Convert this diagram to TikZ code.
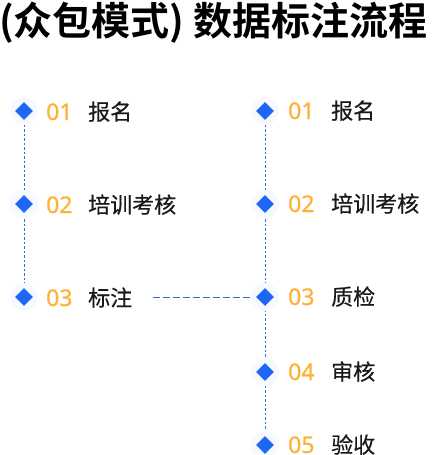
\documentclass[tikz,border=0pt]{standalone}
\usepackage{fontspec}
\newfontfamily\cjk{Noto Sans CJK SC}[FakeBold=0.4]
\newfontfamily\cjkbold{Noto Sans CJK SC Bold}
\newfontfamily\numfont{Noto Sans}[FakeBold=0.8]
\usetikzlibrary{shapes.geometric,backgrounds}
\definecolor{dblue}{HTML}{1F66F5}
\definecolor{lblue}{HTML}{2F6FC8}
\definecolor{numor}{HTML}{FDB235}
\definecolor{glow}{HTML}{F7F9FF}
\begin{document}
\begin{tikzpicture}[x=1pt,y=-1pt,
  marker/.style={diamond,fill=dblue,inner sep=0pt,minimum size=18pt},
  numtxt/.style={anchor=base west,inner sep=0pt,font=\numfont\fontsize{23}{23}\selectfont,text=numor},
  labtxt/.style={anchor=base west,inner sep=0pt,font=\cjk\fontsize{22}{22}\selectfont,text=black!90},
  vline/.style={draw=lblue,line width=0.8pt,dash pattern=on 2.5pt off 2pt},
  hline/.style={draw=lblue,line width=0.8pt,dash pattern=on 6.5pt off 3.5pt}]
\useasboundingbox (0,0) rectangle (432,455);
\node[anchor=base west,inner sep=0pt,font=\cjkbold\fontsize{39}{39}\selectfont] (title) at (-1,35) {(众包模式) 数据标注流程};
% left column
\foreach \n/\y/\num/\lab in {1/111/01/报名,2/204/02/培训考核,3/297/03/标注}{
  \fill[glow] (24,\y) circle (14);
  \node[marker] (d\n) at (24,\y) {};
  \node[numtxt] (n\n) at (46,\y+9) {\num};
  \node[labtxt] (l\n) at (88,\y+9) {\lab};
}
% right column
\foreach \n/\y/\num/\lab in {1/111/01/报名,2/204/02/培训考核,3/297/03/质检,4/372/04/审核,5/445/05/验收}{
  \fill[glow] (265,\y) circle (14);
  \node[marker] (e\n) at (265,\y) {};
  \node[numtxt] (m\n) at (288,\y+8) {\num};
  \node[labtxt] (r\n) at (331,\y+8) {\lab};
}
\coordinate (hstart) at (153,297);
\begin{scope}[on background layer]
  \draw[vline] (d1.center) -- (d3.center);
  \draw[vline] (e1.center) -- (e5.center);
  \draw[hline] (hstart) -- (e3.center);
\end{scope}
\end{tikzpicture}
\end{document}
